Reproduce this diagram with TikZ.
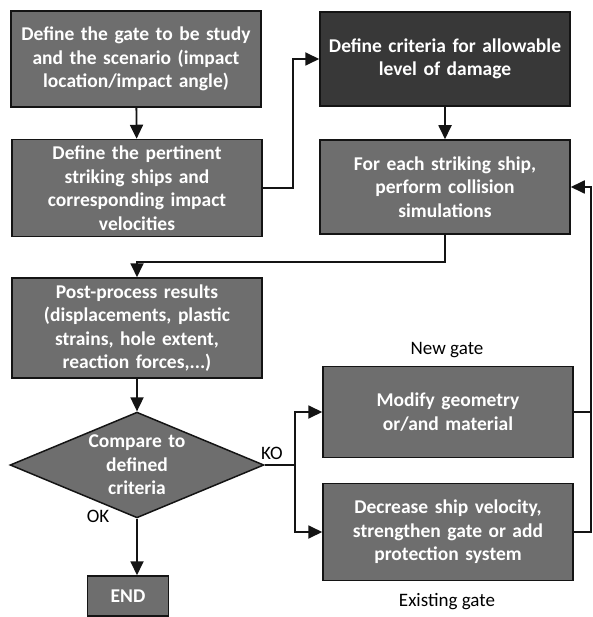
\documentclass[tikz,border=0pt]{standalone}
\usepackage{fontspec}
\setmainfont{Carlito}
\usetikzlibrary{arrows.meta,shapes.geometric}
\definecolor{kutuGri}{HTML}{6E6E6E}
\definecolor{koyuKutu}{HTML}{383838}
\definecolor{cizgiSiyah}{HTML}{141414}
\tikzset{
  adim/.style={draw=cizgiSiyah,line width=1.5pt,fill=kutuGri,text=white,
    font=\bfseries\fontsize{19.5}{23.5}\selectfont,align=center,
    minimum width=250pt,text width=248pt,inner sep=0pt},
  karar/.style={adim,shape=diamond,aspect=2.4,text width=110pt,
    minimum width=250pt,minimum height=104pt},
  etiket/.style={font=\fontsize{19}{22}\selectfont,text=black},
  ok/.style={line width=1.8pt,cizgiSiyah,-{Triangle[length=14pt,width=13pt]}},
  hat/.style={line width=1.8pt,cizgiSiyah}
}
\begin{document}
\begin{tikzpicture}[x=1pt,y=-1pt]
\useasboundingbox (0,0) rectangle (592,617);
% left column
\node[adim,minimum height=96pt] (kapi) at (136,59) {Define the gate to be study\\ and the scenario (impact\\ location/impact angle)};
\node[adim,minimum height=97pt] (gemi) at (137,188) {Define the pertinent\\ striking ships and\\ corresponding impact\\ velocities};
% right column
\node[adim,fill=koyuKutu,minimum height=94pt] (kriter) at (445,59) {Define criteria for allowable\\ level of damage};
\node[adim,minimum height=94pt] (simul) at (445,187) {For each striking ship,\\ perform collision\\ simulations};
% post-processing and decision
\node[adim,minimum height=100pt] (sonuc) at (137,328) {Post-process results\\ (displacements, plastic\\ strains, hole extent,\\ reaction forces,...)};
\node[karar] (karsi) at (137,465) {Compare to\\ defined\\ criteria};
\node[adim,minimum width=81pt,text width=75pt,minimum height=40pt] (bitis) at (128,596) {END};
% corrective actions
\node[adim,minimum height=91pt] (yeni) at (448,412) {Modify geometry\\ or/and material};
\node[adim,minimum height=97pt] (mevcut) at (448,532) {Decrease ship velocity,\\ strengthen gate or add\\ protection system};
\node[etiket] (yeniEt) at (447,350) {New gate};
\node[etiket] (mevcutEt) at (447,602) {Existing gate};
\node[etiket] (koEt) at (272,453) {KO};
\node[etiket] (okEt) at (98,516) {OK};
% connectors
\draw[ok] (kapi) -- (gemi);
\draw[ok] (gemi.east) -- ++(30,0) |- (kriter.west);
\draw[ok] (kriter) -- (simul);
\draw[ok] (simul.south) -- ++(0,27) -| (sonuc.north);
\draw[ok] (sonuc) -- (karsi);
\draw[ok] (karsi.south) -- (karsi.south |- bitis.north);
\draw[hat] (karsi.east) -- ++(30,0) coordinate (ayrim);
\draw[ok] (ayrim) |- (yeni.west);
\draw[ok] (ayrim) |- (mevcut.west);
\draw[ok] (mevcut.east) -- ++(17,0) coordinate (geri) |- (simul.east);
\draw[hat] (yeni.east) -- (yeni.east -| geri);
\end{tikzpicture}
\end{document}
